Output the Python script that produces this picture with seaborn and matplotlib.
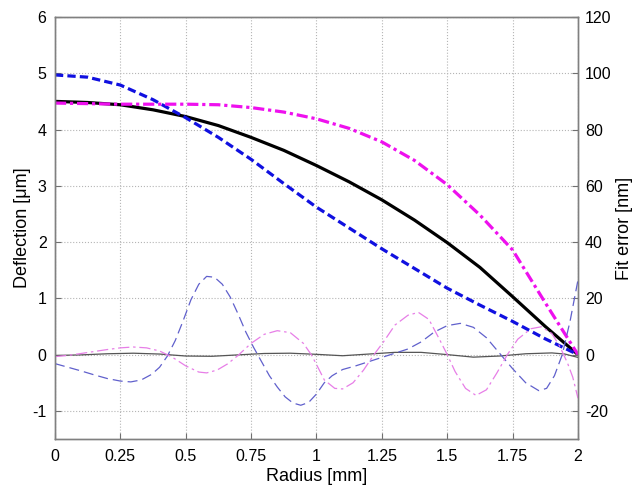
import numpy as np
import matplotlib
matplotlib.use("Agg")
import matplotlib.pyplot as plt
import seaborn as sns

# deflection profiles (left axis, um), sampled every 0.125 mm
radius = [0.0, 0.125, 0.25, 0.375, 0.5, 0.625, 0.75, 0.875, 1.0,
          1.125, 1.25, 1.375, 1.5, 1.625, 1.75, 1.875, 2.0]
defl_black = [4.50, 4.48, 4.44, 4.35, 4.23, 4.07, 3.86, 3.63, 3.36,
              3.07, 2.75, 2.39, 1.99, 1.55, 1.03, 0.50, 0.0]
defl_blue = [4.97, 4.93, 4.79, 4.53, 4.21, 3.86, 3.47, 3.04, 2.62,
             2.25, 1.88, 1.53, 1.18, 0.88, 0.59, 0.28, 0.0]
defl_magenta = [4.47, 4.46, 4.45, 4.45, 4.45, 4.44, 4.39, 4.31, 4.19,
                4.02, 3.78, 3.45, 3.02, 2.48, 1.86, 0.92, 0.0]

# fit errors (right axis, nm)
err_blue_r = [0.0, 0.05, 0.1, 0.15, 0.2, 0.25, 0.29, 0.33, 0.37, 0.4, 0.43,
              0.46, 0.49, 0.52, 0.55, 0.58, 0.61, 0.64, 0.67, 0.70, 0.73,
              0.76, 0.79, 0.82, 0.85, 0.88, 0.91, 0.94, 0.97, 1.0, 1.03,
              1.06, 1.1, 1.15, 1.2, 1.25, 1.3, 1.35, 1.4, 1.45, 1.5, 1.55,
              1.6, 1.65, 1.7, 1.75, 1.8, 1.85, 1.88, 1.91, 1.94, 1.97, 2.0]
err_blue = [-3.2, -4.5, -5.8, -7.2, -8.5, -9.4, -9.7, -9.0, -7.0, -4.5, -0.5,
            5.0, 12.0, 19.5, 25.0, 27.8, 27.5, 25.0, 20.5, 14.5, 8.0,
            2.5, -2.5, -7.5, -11.5, -15.0, -17.2, -18.0, -17.0, -14.0, -10.0,
            -7.5, -5.3, -4.0, -2.5, -1.0, 0.5, 2.0, 4.5, 8.0, 10.3, 11.1,
            9.7, 6.0, 0.5, -5.0, -10.0, -12.8, -12.0, -7.5, 0.0, 12.0, 26.5]

err_mag_r = [0.0, 0.05, 0.1, 0.15, 0.2, 0.25, 0.3, 0.35, 0.4, 0.45, 0.5,
             0.55, 0.58, 0.62, 0.66, 0.7, 0.75, 0.8, 0.85, 0.9, 0.95, 0.98,
             1.0, 1.03, 1.07, 1.1, 1.14, 1.18, 1.22, 1.26, 1.3, 1.35, 1.39,
             1.43, 1.47, 1.5, 1.53, 1.57, 1.61, 1.65, 1.69, 1.73, 1.77, 1.82,
             1.86, 1.9, 1.93, 1.96, 1.98, 2.0]
err_mag = [-0.7, -0.3, 0.4, 1.1, 1.8, 2.4, 2.7, 2.4, 1.3, -1.0, -4.0,
           -6.2, -6.5, -5.5, -3.3, -0.3, 4.0, 7.2, 8.5, 7.8, 4.0, 0.0,
           -3.5, -9.0, -12.0, -12.2, -10.0, -5.5, 0.0, 5.0, 10.5, 14.0, 15.0,
           12.5, 5.5, 0.0, -6.0, -12.0, -14.5, -12.5, -6.5, 0.0, 5.5, 9.2,
           9.9, 7.5, 3.0, -3.0, -8.0, -15.5]

err_blk_r = [0.0, 0.1, 0.2, 0.3, 0.4, 0.5, 0.6, 0.7, 0.8, 0.9, 1.0, 1.1,
             1.2, 1.3, 1.4, 1.5, 1.6, 1.7, 1.8, 1.9, 1.95, 2.0]
err_blk = [-0.3, -0.1, 0.3, 0.5, 0.2, -0.5, -0.6, -0.1, 0.4, 0.5, 0.1, -0.4,
           0.2, 0.8, 0.8, 0.0, -0.9, -0.5, 0.3, 0.6, 0.2, -1.0]

sns.set_style("white")
plt.rcParams['font.family'] = ['Liberation Sans', 'DejaVu Sans']
plt.rcParams['axes.unicode_minus'] = False
plt.rcParams['text.color'] = 'black'
plt.rcParams['axes.labelcolor'] = 'black'
plt.rcParams['xtick.color'] = 'black'
plt.rcParams['ytick.color'] = 'black'

fig = plt.figure(figsize=(6.39, 4.99), dpi=100)
ax = fig.add_axes([0.086, 0.1202, 0.8185, 0.8458])
ax2 = ax.twinx()

# thick deflection curves
sns.lineplot(x=radius, y=defl_black, ax=ax, color='black', lw=2.3,
             linestyle='-')
sns.lineplot(x=radius, y=defl_blue, ax=ax, color='#1010e0', lw=2.3,
             linestyle=(0, (2.6, 1.3)))
sns.lineplot(x=radius, y=defl_magenta, ax=ax, color='#ee10ee', lw=2.3,
             linestyle=(0, (3.5, 1.2, 1.0, 1.2)))

# thin fit error curves
sns.lineplot(x=err_blk_r, y=err_blk, ax=ax2, color='#555555', lw=0.9,
             linestyle='-')
sns.lineplot(x=err_blue_r, y=err_blue, ax=ax2, color='#6060cc', lw=0.9,
             linestyle=(0, (8, 4)))
sns.lineplot(x=err_mag_r, y=err_mag, ax=ax2, color='#e77ee7', lw=0.9,
             linestyle=(0, (9, 3, 2, 3)))

ax.set_xlim(0, 2)
ax.set_ylim(-1.5, 6)
ax.set_xticks([0, 0.25, 0.5, 0.75, 1, 1.25, 1.5, 1.75, 2])
ax.set_xticklabels(['0', '0.25', '0.5', '0.75', '1', '1.25', '1.5', '1.75', '2'])
ax.set_yticks(range(-1, 7))
ax2.set_ylim(-30, 120)
ax2.set_yticks(range(-20, 121, 20))

ax.grid(True, linestyle=':', color='#b5b5b5', linewidth=0.8)
ax.set_axisbelow(True)

ax.set_xlabel('Radius [mm]', fontsize=13, labelpad=3)
ax.set_ylabel('Deflection [\u03bcm]', fontsize=13, labelpad=1)
ax2.set_ylabel('Fit error [nm]', fontsize=13, labelpad=3)

ax.tick_params(axis='x', bottom=True, direction='in', length=4,
               labelsize=11.5, color='#707070', pad=7)
ax.tick_params(axis='y', left=True, direction='in', length=4,
               labelsize=11.5, color='#707070', pad=6)
ax2.tick_params(axis='y', right=True, direction='in', length=4,
                labelsize=11.5, color='#707070', pad=5)
for a in (ax, ax2):
    for s in a.spines.values():
        s.set_color('#808080')
        s.set_linewidth(1.0)

fig.savefig('out.png', dpi=100)
